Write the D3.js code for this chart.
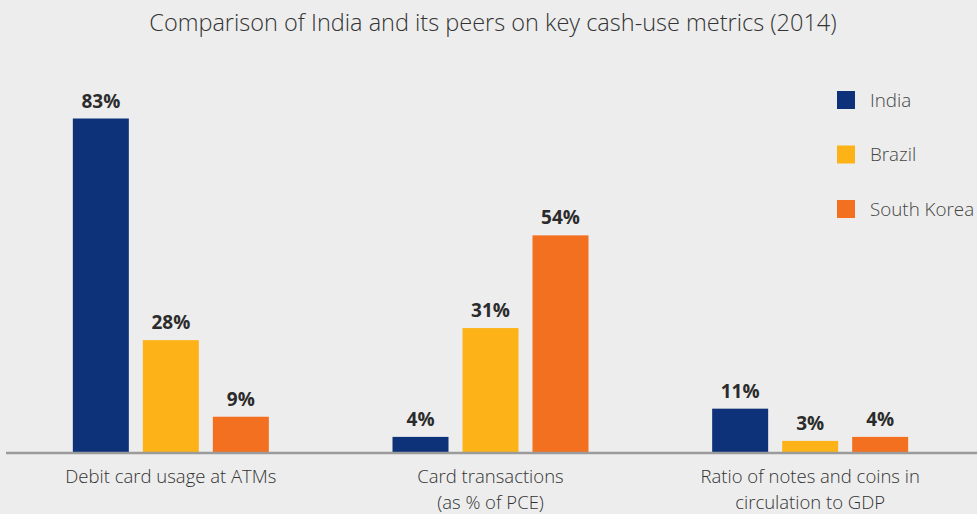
<!DOCTYPE html>
<html>
<head>
<meta charset="utf-8">
<script src="https://cdn.jsdelivr.net/npm/d3@7"></script>
<style>
  html, body { margin: 0; padding: 0; background: #ededed; }
  svg { display: block; }
</style>
</head>
<body>
<div id="chart"></div>
<script>
const W = 977, H = 514;

// data
const categories = ["Debit card usage at ATMs", "Card transactions\n(as % of PCE)", "Ratio of notes and coins in\ncirculation to GDP"];
const series = ["India", "Brazil", "South Korea"];
const india = [83, 4, 11];
const brazil = [28, 31, 3];
const southKorea = [9, 54, 4];
const colors = ["#0e327a", "#fdb317", "#f37021"];
const title = "Comparison of India and its peers on key cash-use metrics (2014)";

const values = [india, brazil, southKorea];
const rows = categories.map((c, i) => ({cat: c, vals: series.map((s, j) => ({s: s, v: values[j][i]}))}));

const svg = d3.select("#chart").append("svg")
  .attr("width", W).attr("height", H)
  .style("font-family", "'Open Sans', sans-serif");

svg.append("rect").attr("width", W).attr("height", H).attr("fill", "#ededed");

const baseY = 453;

const x0 = d3.scaleBand().domain(categories).range([11, 970]).padding(0);
const x1 = d3.scaleBand().domain(series).range([-98, 98]).paddingInner(0.2).paddingOuter(0);
const y = d3.scaleLinear().domain([0, 83]).range([baseY, 118.5]);

svg.append("text")
  .attr("x", 493).attr("y", 31)
  .attr("text-anchor", "middle")
  .attr("font-size", 23.5).attr("font-weight", 300)
  .attr("fill", "#333")
  .text(title);

const g = svg.selectAll("g.grp").data(rows).enter().append("g")
  .attr("class", "grp")
  .attr("transform", d => "translate(" + (x0(d.cat) + x0.bandwidth()/2) + ",0)");

g.selectAll("rect").data(d => d.vals).enter().append("rect")
  .attr("x", d => x1(d.s))
  .attr("y", d => y(d.v))
  .attr("width", x1.bandwidth())
  .attr("height", d => baseY - y(d.v))
  .attr("fill", (d, i) => colors[i]);

g.selectAll("text.val").data(d => d.vals).enter().append("text")
  .attr("class", "val")
  .attr("x", d => x1(d.s) + x1.bandwidth()/2)
  .attr("y", d => y(d.v) - 11)
  .attr("text-anchor", "middle")
  .attr("font-size", 19).attr("font-weight", 700)
  .attr("fill", "#2b2b2b")
  .text(d => d.v + "%");

// axis baseline
const xAxis = d3.axisBottom(x0).tickSize(0).tickFormat("");
const ax = svg.append("g").attr("transform", "translate(0," + baseY + ")").call(xAxis);
ax.select(".domain").attr("d", "M6,0H977").attr("stroke", "#9b9b9b").attr("stroke-width", 2.5);

// category labels
g.each(function(d) {
  const lines = d.cat.split("\n");
  const t = d3.select(this).append("text")
    .attr("text-anchor", "middle")
    .attr("font-size", 18.5).attr("font-weight", 300)
    .attr("fill", "#333");
  lines.forEach((l, i) => {
    t.append("tspan").attr("x", 0).attr("y", 483.3 + i*25.2).text(l);
  });
});

// legend
const leg = svg.selectAll("g.leg").data(series).enter().append("g")
  .attr("class", "leg")
  .attr("transform", (d, i) => "translate(837," + (91 + i*54.5) + ")");
leg.append("rect").attr("width", 18).attr("height", 18).attr("fill", (d, i) => colors[i]);
leg.append("text").attr("x", 33).attr("y", 15.5)
  .attr("font-size", 18.8).attr("font-weight", 300)
  .attr("fill", "#444")
  .text(d => d);
</script>
</body>
</html>
